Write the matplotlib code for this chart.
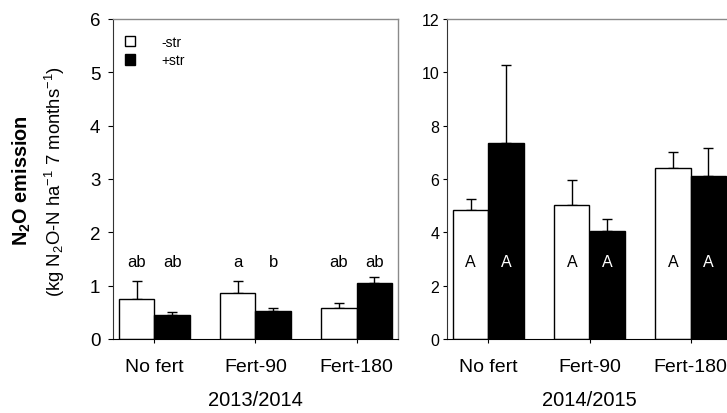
import numpy as np
import matplotlib
matplotlib.use("Agg")
import matplotlib.pyplot as plt
from matplotlib.patches import Patch

plt.rcParams["font.family"] = ["Liberation Sans", "DejaVu Sans"]
plt.rcParams["mathtext.fontset"] = "custom"
plt.rcParams["mathtext.rm"] = "Liberation Sans"
plt.rcParams["mathtext.bf"] = "Liberation Sans:bold"
plt.rcParams["mathtext.default"] = "regular"

# --------------------------------------------------
# DATA
# --------------------------------------------------
categories = ["No fert", "Fert-90", "Fert-180"]
seasons = ["2013/2014", "2014/2015"]

# 2013/2014
minus_str_13 = [0.75, 0.86, 0.59]
minus_err_13 = [0.33, 0.22, 0.08]
plus_str_13 = [0.45, 0.53, 1.05]
plus_err_13 = [0.05, 0.05, 0.11]
letters_minus_13 = ["ab", "a", "ab"]
letters_plus_13 = ["ab", "b", "ab"]

# 2014/2015
minus_str_14 = [4.85, 5.01, 6.43]
minus_err_14 = [0.41, 0.95, 0.58]
plus_str_14 = [7.35, 4.06, 6.11]
plus_err_14 = [2.94, 0.43, 1.05]
letters_minus_14 = ["A", "A", "A"]
letters_plus_14 = ["A", "A", "A"]

# --------------------------------------------------
# FIGURE
# --------------------------------------------------
fig = plt.figure(figsize=(7.27, 4.14), dpi=100)
ax1 = fig.add_axes([113 / 727, 74 / 414, 285 / 727, 320 / 414])
ax2 = fig.add_axes([447 / 727, 74 / 414, 285 / 727, 320 / 414])

x = np.arange(len(categories))
w = 0.35


def draw_panel(ax, minus, minus_err, plus, plus_err, ymax, step):
    ax.bar(x - w / 2, minus, w, color="white", edgecolor="black", linewidth=1, zorder=2)
    ax.bar(x + w / 2, plus, w, color="black", edgecolor="black", linewidth=1, zorder=2)
    ax.errorbar(x - w / 2, minus, yerr=[np.zeros(3), minus_err], fmt="none",
                ecolor="black", elinewidth=1, capsize=3.6, capthick=1, zorder=1)
    ax.errorbar(x + w / 2, plus, yerr=[np.zeros(3), plus_err], fmt="none",
                ecolor="black", elinewidth=1, capsize=3.6, capthick=1, zorder=1)
    ax.set_xlim(-0.41, 2.41)
    ax.set_ylim(0, ymax)
    ax.set_yticks(np.arange(0, ymax + 0.1, step))
    ax.set_xticks(x)
    ax.set_xticklabels(categories)
    for s in ["top", "right"]:
        ax.spines[s].set_color("#8a8a8a")
        ax.spines[s].set_linewidth(1)
    ax.spines["left"].set_color("#333333")
    ax.spines["bottom"].set_color("black")


draw_panel(ax1, minus_str_13, minus_err_13, plus_str_13, plus_err_13, 6, 1)
draw_panel(ax2, minus_str_14, minus_err_14, plus_str_14, plus_err_14, 12, 2)

ax1.tick_params(axis="y", direction="out", length=3.6, pad=5.5, labelsize=13.5)
ax1.tick_params(axis="x", direction="out", length=3, pad=10.5, labelsize=14)
ax2.tick_params(axis="y", direction="out", length=3, pad=2.5, labelsize=11.5)
ax2.tick_params(axis="x", direction="out", length=3, pad=10.5, labelsize=14)

# significance letters
for i in range(3):
    ax1.text(x[i] - w / 2, 1.46, letters_minus_13[i], ha="center", va="center", fontsize=12)
    ax1.text(x[i] + w / 2, 1.46, letters_plus_13[i], ha="center", va="center", fontsize=12)
    ax2.text(x[i] - w / 2, 2.9, letters_minus_14[i], ha="center", va="center",
             fontsize=11.5, color="black")
    ax2.text(x[i] + w / 2, 2.9, letters_plus_14[i], ha="center", va="center",
             fontsize=11.5, color="white")

ax1.set_xlabel(seasons[0], fontsize=14.5, labelpad=11)
ax2.set_xlabel(seasons[1], fontsize=14.5, labelpad=11)

# y label (two lines)
fig.text(22 / 727, 1 - 181 / 414, r"N$_\mathbf{2}$O emission", rotation=90,
         ha="center", va="center", fontsize=14.3, fontweight="bold")
fig.text(55 / 727, 1 - 182 / 414, r"(kg N$_2$O-N ha$^{-1}$ 7 months$^{-1}$)", rotation=90,
         ha="center", va="center", fontsize=13.3)

# legend
handles = [Patch(facecolor="white", edgecolor="black", linewidth=1, label="-str"),
           Patch(facecolor="black", edgecolor="black", linewidth=1, label="+str")]
ax1.legend(handles=handles, loc="upper left", bbox_to_anchor=(0.007, 0.98),
           frameon=False, fontsize=10, handlelength=0.75, handleheight=0.75,
           handletextpad=1.9, labelspacing=0.3, borderpad=0.2)

fig.savefig("out.png", dpi=100)
